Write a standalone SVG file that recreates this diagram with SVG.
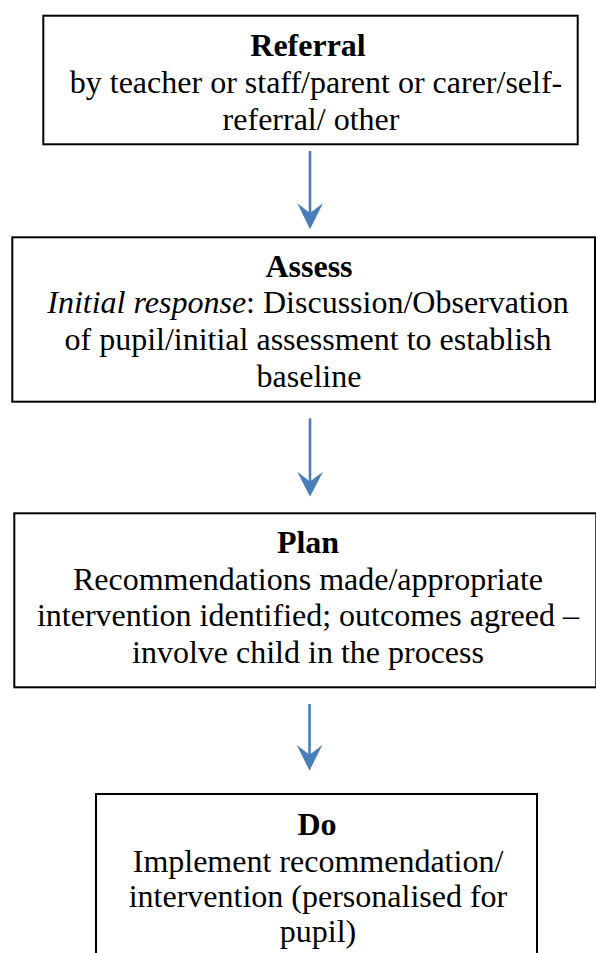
<svg xmlns="http://www.w3.org/2000/svg" width="596" height="953" viewBox="0 0 596 953">
<defs>
<style>
.box{fill:#fff;stroke:#000;stroke-width:2}
.t{font-family:'Liberation Serif','DejaVu Serif',serif;font-size:32px;fill:#000;text-anchor:middle}
.b{font-weight:bold}
.i{font-style:italic}
.conn line{stroke:#4A7EBB;stroke-width:2.6}
.conn path{fill:#4A7EBB}
</style>
</defs>
<rect width="596" height="953" fill="#fff"/>
<g id="referral">
<rect class="box" x="43.3" y="15.7" width="534.4" height="128.6"/>
<text class="t b" x="308" y="56">Referral</text>
<text class="t" x="316" y="93" font-family="Liberation Serif">by teacher or staff/parent or carer/self-</text>
<text class="t" x="311" y="129.5">referral/ other</text>
</g>
<g id="assess">
<rect class="box" x="12.3" y="237.3" width="582.7" height="164.4"/>
<text class="t b" x="309" y="276.7">Assess</text>
<text class="t" x="308" y="313.4"><tspan class="i">Initial response</tspan>: Discussion/Observation</text>
<text class="t" x="308" y="350.1">of pupil/initial assessment to establish</text>
<text class="t" x="309" y="386.8">baseline</text>
</g>
<g id="plan">
<rect class="box" x="14.3" y="513.3" width="582" height="174"/>
<text class="t b" x="308" y="553.3">Plan</text>
<text class="t" x="308" y="590">Recommendations made/appropriate</text>
<text class="t" x="308" y="626.4">intervention identified; outcomes agreed –</text>
<text class="t" x="308" y="662.6">involve child in the process</text>
</g>
<g id="do">
<rect class="box" x="96" y="794" width="441" height="180"/>
<text class="t b" x="317" y="835">Do</text>
<text class="t" x="318" y="871.5">Implement recommendation/</text>
<text class="t" x="318" y="907">intervention (personalised for</text>
<text class="t" x="318" y="942">pupil)</text>
</g>
<g id="connectors" class="conn">
<line x1="310" y1="151" x2="310" y2="215"/>
<path d="M297.3,203.3 L310,229.3 L323,203.3 L310,213 Z"/>
<line x1="310" y1="418.3" x2="310" y2="482"/>
<path d="M297.3,471.7 L310,496.7 L323,471.7 L310,481.4 Z"/>
<line x1="309.5" y1="704" x2="309.5" y2="755"/>
<path d="M296.8,745 L309.5,770.7 L322.3,745 L309.5,754.7 Z"/>
</g>
</svg>
